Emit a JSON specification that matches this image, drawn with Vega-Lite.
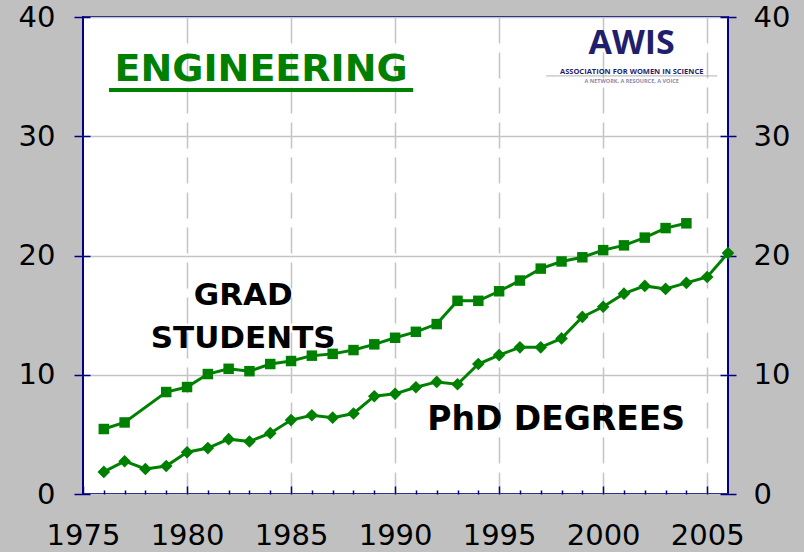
{
  "$schema": "https://vega.github.io/schema/vega-lite/v6.json",
  "width": 645,
  "height": 477,
  "autosize": "none",
  "padding": {"left": 83, "top": 17, "right": 76, "bottom": 58},
  "background": "#c0c0c0",
  "config": {
    "view": {"fill": "white", "stroke": "#000080", "strokeWidth": 2},
    "axis": {"labelFont": "DejaVu Sans", "labelFontSize": 29, "labelColor": "black", "tickColor": "#000080", "tickWidth": 1.5, "domain": false, "gridColor": "#c4c4c4", "gridWidth": 1.5, "labelOverlap": false, "labelFlush": false}
  },
  "datasets": {
    "series": [
      {"series": "Grad students", "year": 1976, "value": 5.45},
      {"series": "Grad students", "year": 1977, "value": 6.0},
      {"series": "Grad students", "year": 1979, "value": 8.55},
      {"series": "Grad students", "year": 1980, "value": 8.97},
      {"series": "Grad students", "year": 1981, "value": 10.06},
      {"series": "Grad students", "year": 1982, "value": 10.5},
      {"series": "Grad students", "year": 1983, "value": 10.3},
      {"series": "Grad students", "year": 1984, "value": 10.9},
      {"series": "Grad students", "year": 1985, "value": 11.15},
      {"series": "Grad students", "year": 1986, "value": 11.6},
      {"series": "Grad students", "year": 1987, "value": 11.75},
      {"series": "Grad students", "year": 1988, "value": 12.07},
      {"series": "Grad students", "year": 1989, "value": 12.55},
      {"series": "Grad students", "year": 1990, "value": 13.1},
      {"series": "Grad students", "year": 1991, "value": 13.6},
      {"series": "Grad students", "year": 1992, "value": 14.25},
      {"series": "Grad students", "year": 1993, "value": 16.2},
      {"series": "Grad students", "year": 1994, "value": 16.2},
      {"series": "Grad students", "year": 1995, "value": 17.0},
      {"series": "Grad students", "year": 1996, "value": 17.9},
      {"series": "Grad students", "year": 1997, "value": 18.9},
      {"series": "Grad students", "year": 1998, "value": 19.5},
      {"series": "Grad students", "year": 1999, "value": 19.85},
      {"series": "Grad students", "year": 2000, "value": 20.45},
      {"series": "Grad students", "year": 2001, "value": 20.85},
      {"series": "Grad students", "year": 2002, "value": 21.5},
      {"series": "Grad students", "year": 2003, "value": 22.3},
      {"series": "Grad students", "year": 2004, "value": 22.7},
      {"series": "PhD degrees", "year": 1976, "value": 1.85},
      {"series": "PhD degrees", "year": 1977, "value": 2.75},
      {"series": "PhD degrees", "year": 1978, "value": 2.1},
      {"series": "PhD degrees", "year": 1979, "value": 2.35},
      {"series": "PhD degrees", "year": 1980, "value": 3.5},
      {"series": "PhD degrees", "year": 1981, "value": 3.85},
      {"series": "PhD degrees", "year": 1982, "value": 4.6},
      {"series": "PhD degrees", "year": 1983, "value": 4.4},
      {"series": "PhD degrees", "year": 1984, "value": 5.1},
      {"series": "PhD degrees", "year": 1985, "value": 6.2},
      {"series": "PhD degrees", "year": 1986, "value": 6.6},
      {"series": "PhD degrees", "year": 1987, "value": 6.4},
      {"series": "PhD degrees", "year": 1988, "value": 6.75},
      {"series": "PhD degrees", "year": 1989, "value": 8.2},
      {"series": "PhD degrees", "year": 1990, "value": 8.4},
      {"series": "PhD degrees", "year": 1991, "value": 8.95},
      {"series": "PhD degrees", "year": 1992, "value": 9.4},
      {"series": "PhD degrees", "year": 1993, "value": 9.2},
      {"series": "PhD degrees", "year": 1994, "value": 10.9},
      {"series": "PhD degrees", "year": 1995, "value": 11.65},
      {"series": "PhD degrees", "year": 1996, "value": 12.3},
      {"series": "PhD degrees", "year": 1997, "value": 12.3},
      {"series": "PhD degrees", "year": 1998, "value": 13.05},
      {"series": "PhD degrees", "year": 1999, "value": 14.85},
      {"series": "PhD degrees", "year": 2000, "value": 15.7},
      {"series": "PhD degrees", "year": 2001, "value": 16.8},
      {"series": "PhD degrees", "year": 2002, "value": 17.45},
      {"series": "PhD degrees", "year": 2003, "value": 17.2},
      {"series": "PhD degrees", "year": 2004, "value": 17.7},
      {"series": "PhD degrees", "year": 2005, "value": 18.2},
      {"series": "PhD degrees", "year": 2006, "value": 20.2}
    ]
  },
  "layer": [
    {
      "data": {"name": "series"},
      "mark": {"type": "line", "color": "#008000", "strokeWidth": 3},
      "encoding": {
        "x": {"field": "year", "type": "quantitative", "scale": {"domain": [1975, 2006], "nice": false, "zero": false},
          "axis": {"title": null, "orient": "bottom", "values": [1975, 1980, 1985, 1990, 1995, 2000, 2005], "format": "d", "offset": -8, "tickSize": 8, "labelPadding": 27, "grid": true, "gridDash": [26, 9], "gridOpacity": {"condition": {"test": "datum.value == 1975", "value": 0}, "value": 1}}},
        "y": {"field": "value", "type": "quantitative", "scale": {"domain": [0, 40], "nice": false},
          "axis": {"title": null, "orient": "left", "values": [0, 10, 20, 30, 40], "offset": -7, "tickSize": 16, "labelPadding": 19, "grid": true}},
        "detail": {"field": "series"}
      }
    },
    {
      "data": {"name": "series"},
      "mark": {"type": "point", "filled": true, "opacity": 1, "color": "#008000"},
      "encoding": {
        "x": {"field": "year", "type": "quantitative", "scale": {"domain": [1975, 2006], "nice": false, "zero": false},
          "axis": {"title": null, "orient": "bottom", "values": [1976, 1977, 1978, 1979, 1981, 1982, 1983, 1984, 1986, 1987, 1988, 1989, 1991, 1992, 1993, 1994, 1996, 1997, 1998, 1999, 2001, 2002, 2003, 2004], "offset": -4, "tickSize": 4, "labels": false, "grid": false}},
        "y": {"field": "value", "type": "quantitative", "scale": {"domain": [0, 40], "nice": false},
          "axis": {"title": null, "orient": "right", "values": [0, 10, 20, 30, 40], "offset": -8, "tickSize": 16, "labelPadding": 17, "grid": false}},
        "shape": {"field": "series", "type": "nominal", "scale": {"domain": ["Grad students", "PhD degrees"], "range": ["square", "diamond"]}, "legend": null},
        "size": {"field": "series", "type": "nominal", "scale": {"domain": ["Grad students", "PhD degrees"], "range": [110, 160]}, "legend": null}
      }
    },
    {
      "data": {"values": [{"text": "ENGINEERING", "year": 1983.56, "value": 35.54}]},
      "mark": {"type": "text", "font": "DejaVu Sans", "fontWeight": "bold", "fontSize": 38, "color": "#008000", "align": "center", "baseline": "middle"},
      "encoding": {
        "x": {"field": "year", "type": "quantitative", "scale": {"domain": [1975, 2006], "nice": false, "zero": false}, "axis": null},
        "y": {"field": "value", "type": "quantitative", "scale": {"domain": [0, 40], "nice": false}, "axis": null},
        "text": {"field": "text"}
      }
    },
    {
      "data": {"values": [{"start": 1976.25, "end": 1990.87, "value": 33.87}]},
      "mark": {"type": "rule", "color": "#008000", "strokeWidth": 4},
      "encoding": {
        "x": {"field": "start", "type": "quantitative", "scale": {"domain": [1975, 2006], "nice": false, "zero": false}, "axis": null},
        "x2": {"field": "end"},
        "y": {"field": "value", "type": "quantitative", "scale": {"domain": [0, 40], "nice": false}, "axis": null}
      }
    },
    {
      "data": {"values": [{"text": "GRAD", "year": 1982.7, "value": 16.6}, {"text": "STUDENTS", "year": 1982.7, "value": 13.0}]},
      "mark": {"type": "text", "font": "DejaVu Sans", "fontWeight": "bold", "fontSize": 31, "color": "black", "align": "center", "baseline": "middle"},
      "encoding": {
        "x": {"field": "year", "type": "quantitative", "scale": {"domain": [1975, 2006], "nice": false, "zero": false}, "axis": null},
        "y": {"field": "value", "type": "quantitative", "scale": {"domain": [0, 40], "nice": false}, "axis": null},
        "text": {"field": "text"}
      }
    },
    {
      "data": {"values": [{"text": "PhD DEGREES", "year": 1997.74, "value": 6.2}]},
      "mark": {"type": "text", "font": "DejaVu Sans", "fontWeight": "bold", "fontSize": 33, "color": "black", "align": "center", "baseline": "middle"},
      "encoding": {
        "x": {"field": "year", "type": "quantitative", "scale": {"domain": [1975, 2006], "nice": false, "zero": false}, "axis": null},
        "y": {"field": "value", "type": "quantitative", "scale": {"domain": [0, 40], "nice": false}, "axis": null},
        "text": {"field": "text"}
      }
    },
    {
      "data": {"values": [{"text": "AWIS", "year": 2001.37, "value": 37.7}]},
      "mark": {"type": "text", "font": "Open Sans", "fontWeight": "bold", "fontSize": 34, "color": "#1f1f6b", "align": "center", "baseline": "middle"},
      "encoding": {
        "x": {"field": "year", "type": "quantitative", "scale": {"domain": [1975, 2006], "nice": false, "zero": false}, "axis": null},
        "y": {"field": "value", "type": "quantitative", "scale": {"domain": [0, 40], "nice": false}, "axis": null},
        "text": {"field": "text"}
      }
    },
    {
      "data": {"values": [{"text": "ASSOCIATION FOR WOMEN IN SCIENCE", "year": 2001.37, "value": 35.42}]},
      "mark": {"type": "text", "font": "Open Sans", "fontWeight": "bold", "fontSize": 7.5, "color": "#1f1f6b", "align": "center", "baseline": "middle"},
      "encoding": {
        "x": {"field": "year", "type": "quantitative", "scale": {"domain": [1975, 2006], "nice": false, "zero": false}, "axis": null},
        "y": {"field": "value", "type": "quantitative", "scale": {"domain": [0, 40], "nice": false}, "axis": null},
        "text": {"field": "text"}
      }
    },
    {
      "data": {"values": [{"start": 1997.26, "end": 2005.48, "value": 35.06}]},
      "mark": {"type": "rule", "color": "#b0b0b8", "strokeWidth": 1},
      "encoding": {
        "x": {"field": "start", "type": "quantitative", "scale": {"domain": [1975, 2006], "nice": false, "zero": false}, "axis": null},
        "x2": {"field": "end"},
        "y": {"field": "value", "type": "quantitative", "scale": {"domain": [0, 40], "nice": false}, "axis": null}
      }
    },
    {
      "data": {"values": [{"text": "A NETWORK, A RESOURCE, A VOICE", "year": 2001.37, "value": 34.6}]},
      "mark": {"type": "text", "font": "Open Sans", "fontWeight": "bold", "fontSize": 5.5, "color": "#8a8ab0", "align": "center", "baseline": "middle"},
      "encoding": {
        "x": {"field": "year", "type": "quantitative", "scale": {"domain": [1975, 2006], "nice": false, "zero": false}, "axis": null},
        "y": {"field": "value", "type": "quantitative", "scale": {"domain": [0, 40], "nice": false}, "axis": null},
        "text": {"field": "text"}
      }
    }
  ],
  "resolve": {"axis": {"x": "independent", "y": "independent"}}
}
